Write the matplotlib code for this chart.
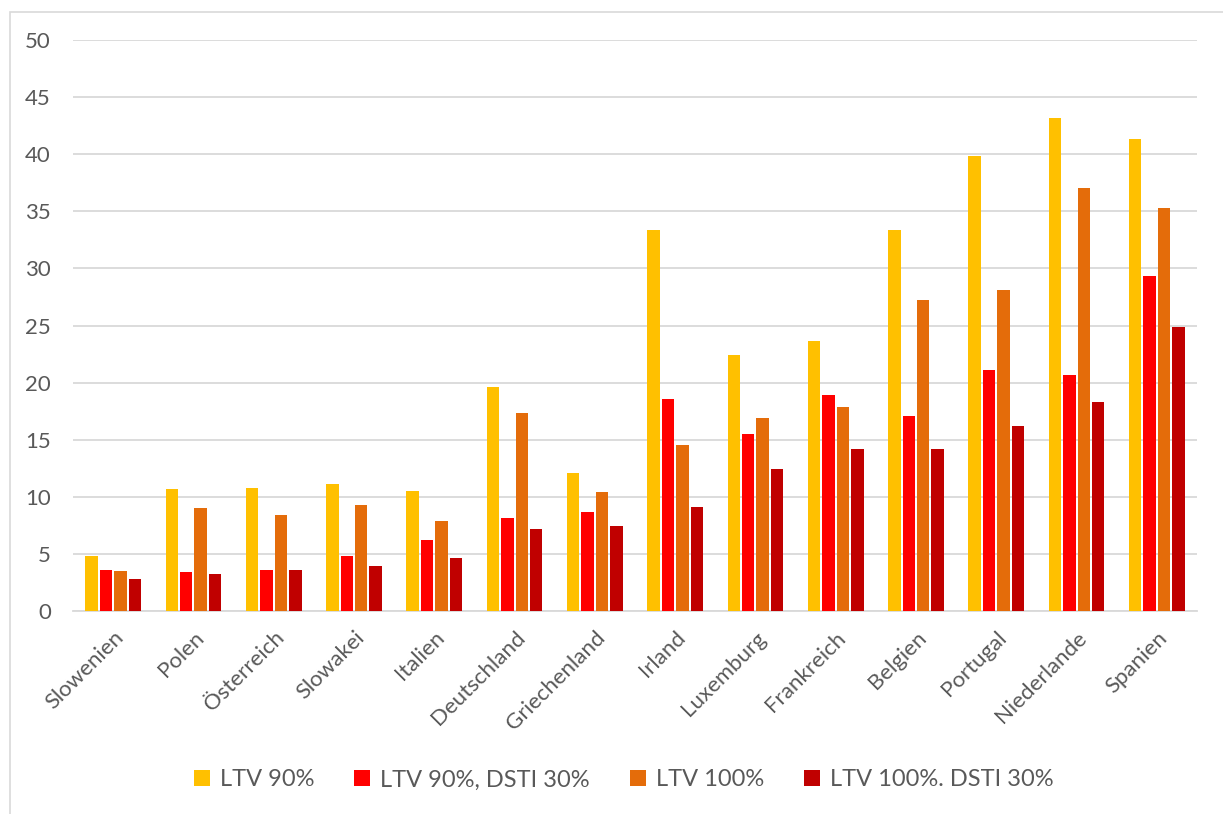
import matplotlib
matplotlib.use("Agg")
import matplotlib.pyplot as plt
from matplotlib.patches import Rectangle
import numpy as np

plt.rcParams['font.family'] = ['Lato', 'DejaVu Sans']

categories = ["Slowenien", "Polen", "Österreich", "Slowakei", "Italien", "Deutschland",
              "Griechenland", "Irland", "Luxemburg", "Frankreich", "Belgien", "Portugal",
              "Niederlande", "Spanien"]
series_names = ["LTV 90%", "LTV 90%, DSTI 30%", "LTV 100%", "LTV 100%. DSTI 30%"]
ltv90 = [4.8, 10.7, 10.8, 11.1, 10.5, 19.6, 12.1, 33.4, 22.4, 23.6, 33.4, 39.8, 43.2, 41.3]
ltv90_dsti30 = [3.6, 3.4, 3.6, 4.8, 6.2, 8.1, 8.7, 18.6, 15.5, 18.9, 17.1, 21.1, 20.7, 29.3]
ltv100 = [3.5, 9.0, 8.4, 9.3, 7.9, 17.3, 10.4, 14.5, 16.9, 17.9, 27.2, 28.1, 37.0, 35.3]
ltv100_dsti30 = [2.8, 3.2, 3.6, 3.9, 4.6, 7.2, 7.4, 9.1, 12.4, 14.2, 14.2, 16.2, 18.3, 24.9]
colors = ["#FFC000", "#FF0000", "#E46C0A", "#C00000"]

fig = plt.figure(figsize=(12.23, 8.14), dpi=100)
ax = fig.add_axes([73/1223, 1-611/814, (1197-73)/1223, (611-40)/814])

# outer chart border
fig.patches.append(Rectangle((10/1223, -0.1), 1.2, 1.1 - 12/814, transform=fig.transFigure,
                             fill=False, edgecolor="#D9D9D9", linewidth=1.2))

x = np.arange(len(categories))
step = 0.18
bw = 0.155
data = [ltv90, ltv90_dsti30, ltv100, ltv100_dsti30]
for i, (vals, c, name) in enumerate(zip(data, colors, series_names)):
    ax.bar(x + (i - 1.5) * step, vals, width=bw, color=c, label=name, zorder=3)

ax.set_xlim(-0.5, len(categories) - 0.5)
ax.set_ylim(0, 50)
ax.set_yticks(range(0, 51, 5))
ax.yaxis.grid(True, color="#D9D9D9", linewidth=1.3, zorder=0)
ax.set_axisbelow(True)
for s in ["top", "right", "left"]:
    ax.spines[s].set_visible(False)
ax.spines["bottom"].set_color("#D9D9D9")
ax.spines["bottom"].set_linewidth(1.3)
ax.tick_params(axis="both", length=0, colors="#595959")
ax.tick_params(axis="y", pad=16, labelsize=16)
ax.set_xticks(x)
ax.set_xticklabels(categories, rotation=45, ha="right", rotation_mode="anchor")
ax.tick_params(axis="x", pad=12, labelsize=16)

leg = fig.legend(loc="center", bbox_to_anchor=(0.51, 1-780/814), ncol=4, frameon=False,
                 fontsize=17, handlelength=0.68, handleheight=0.68, handletextpad=0.42,
                 columnspacing=1.7)
for t in leg.get_texts():
    t.set_color("#595959")

fig.savefig("out.png", dpi=100, facecolor="white")
